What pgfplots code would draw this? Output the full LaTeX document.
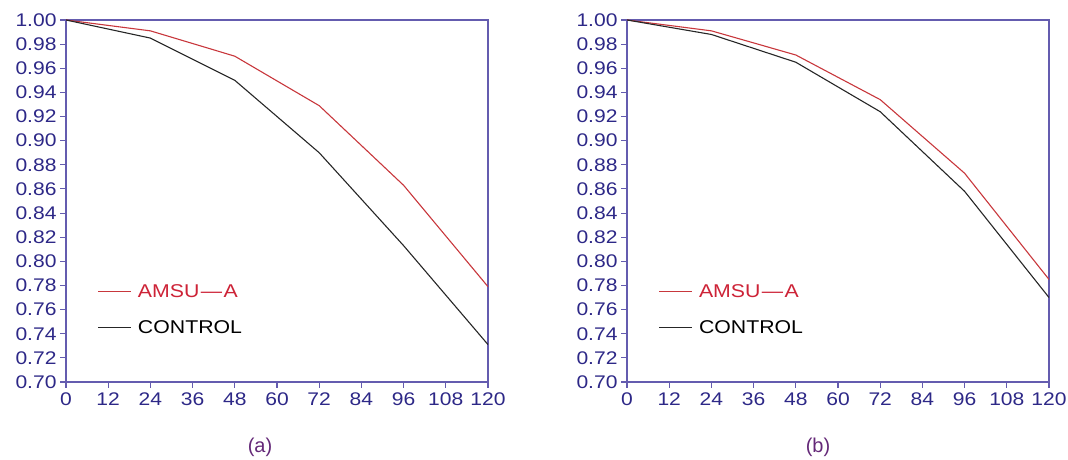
\documentclass[border=0pt]{standalone}
\usepackage{pgfplots}
\pgfplotsset{compat=1.18}
\usepackage{fontspec}
\setmainfont{Liberation Sans}
\newfontfamily\widesans[FakeStretch=1.15,Ligatures=TeX]{Liberation Sans}
\definecolor{axcol}{RGB}{100,92,175}
\definecolor{tickcol}{RGB}{45,40,135}
\definecolor{redl}{RGB}{200,55,60}
\definecolor{redt}{RGB}{205,35,55}
\definecolor{labcol}{RGB}{100,40,120}
\pgfplotsset{
  myax/.style={
    scale only axis, width=422pt, height=362pt,
    xmin=0, xmax=120, ymin=0.70, ymax=1.00,
    xtick={0,12,...,120},
    ytick={0.70,0.72,0.74,0.76,0.78,0.80,0.82,0.84,0.86,0.88,0.90,0.92,0.94,0.96,0.98,1.00},
    yticklabel style={/pgf/number format/fixed,/pgf/number format/fixed zerofill,/pgf/number format/precision=2},
    /pgf/number format/assume math mode=true,
    tick align=outside, tick pos=left,
    major tick length=6pt,
    axis line style={axcol, line width=1.1pt},
    every tick/.style={axcol, line width=1.1pt},
    ticklabel style={font=\widesans\fontsize{18.3}{20}\selectfont, text=tickcol},
    xticklabel style={yshift=-1pt},
    legend style={draw=none, fill=none, at={(rel axis cs:0.068,0.2)}, anchor=west,
      font=\widesans\fontsize{18.5}{20}\selectfont, row sep=17pt,
      legend cell align=left,
      nodes={inner xsep=6pt}},
    legend image code/.code={\draw[##1] (0pt,0pt) -- (33pt,0pt);},
  }
}
\begin{document}
\begin{tikzpicture}[x=1pt,y=1pt]
\useasboundingbox (0,0) rectangle (1068,460);
\begin{axis}[myax, at={(66pt,78pt)}, anchor=south west]
\addplot[redl, line width=1.1pt] coordinates {(0,1.00) (24,0.991) (48,0.970) (72,0.929) (96,0.863) (120,0.779)};
\addlegendentry{\textcolor{redt}{AMSU\kern1.5pt—\kern1.5pt A}}
\addplot[black!85, line width=1.1pt] coordinates {(0,1.00) (24,0.985) (48,0.950) (72,0.890) (96,0.813) (120,0.731)};
\addlegendentry{CONTROL}
\end{axis}
\begin{axis}[myax, at={(627pt,78pt)}, anchor=south west]
\addplot[redl, line width=1.1pt] coordinates {(0,1.00) (24,0.991) (48,0.971) (72,0.934) (96,0.873) (120,0.785)};
\addlegendentry{\textcolor{redt}{AMSU\kern1.5pt—\kern1.5pt A}}
\addplot[black!85, line width=1.1pt] coordinates {(0,1.00) (24,0.988) (48,0.965) (72,0.924) (96,0.858) (120,0.770)};
\addlegendentry{CONTROL}
\end{axis}
\node[text=labcol, font=\fontsize{20}{22}\selectfont] at (260,13) {(a)};
\node[text=labcol, font=\fontsize{20}{22}\selectfont] at (818,13) {(b)};
\end{tikzpicture}
\end{document}
